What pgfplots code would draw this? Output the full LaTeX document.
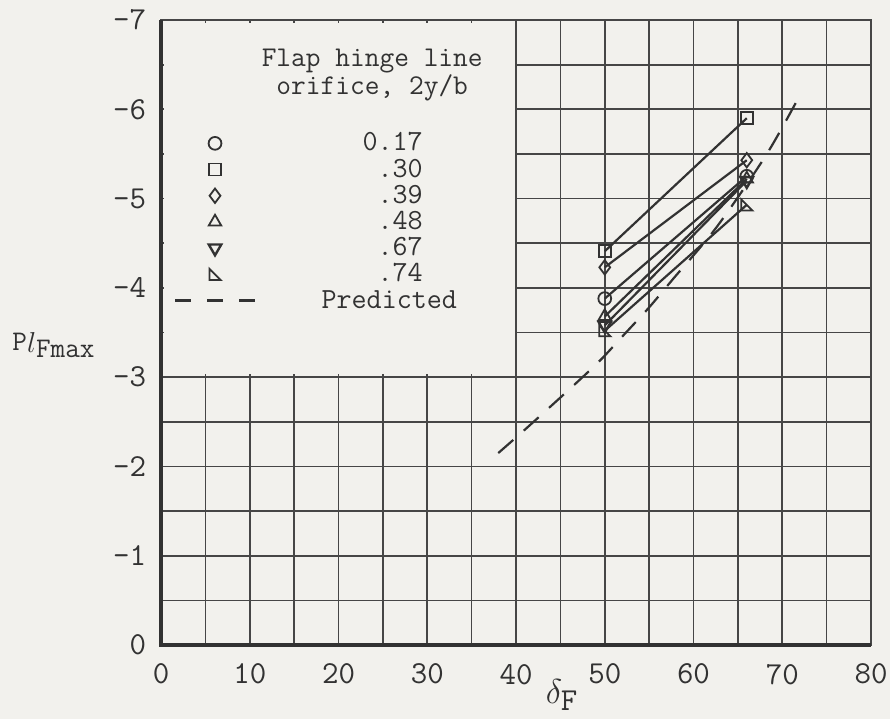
\documentclass[border=0pt]{standalone}
\usepackage{fontspec}
\usepackage{pgfplots}
\pgfplotsset{compat=1.18}
\usetikzlibrary{backgrounds}
\definecolor{paper}{RGB}{242,241,237}
\definecolor{ink}{RGB}{50,50,50}
\definecolor{gridc}{RGB}{70,70,70}
\makeatletter
\pgfdeclareplotmark{rtri}{%
  \pgfpathmoveto{\pgfqpoint{-\pgfplotmarksize}{\pgfplotmarksize}}%
  \pgfpathlineto{\pgfqpoint{-\pgfplotmarksize}{-\pgfplotmarksize}}%
  \pgfpathlineto{\pgfqpoint{\pgfplotmarksize}{-\pgfplotmarksize}}%
  \pgfpathclose
  \pgfusepathqstroke}
\makeatother
\pgfplotsset{
  markimg/.style={legend image code/.code={%
      \path (0pt,0pt) (40pt,0pt);
      \draw[##1, only marks] plot coordinates {(20pt,0pt)};}},
  predimg/.style={legend image code/.code={%
      \draw[##1, dash pattern=on 8pt off 8pt] (0pt,0pt) -- (40pt,0pt);}},
}
\begin{document}
\begin{tikzpicture}[show background rectangle, inner frame sep=0pt,
  background rectangle/.style={fill=paper, draw=none}]
\begin{axis}[
  scale only axis, width=355pt, height=312.5pt,
  xmin=0, xmax=80, ymin=-7, ymax=0, y dir=reverse,
  xtick={0,10,...,80}, xticklabels={0,10,20,30,40,50,60,70,80},
  ytick={0,-1,-2,-3,-4,-5,-6,-7}, yticklabels={0,–1,–2,–3,–4,–5,–6,–7},
  minor xtick={5,15,...,75}, minor ytick={-0.5,-1.5,-2.5,-3.5,-4.5,-5.5,-6.5},
  grid=both, grid style={gridc, line width=0.85pt},
  minor grid style={gridc, line width=0.85pt},
  major tick length=0pt, minor tick length=0pt,
  axis line style={gridc, line width=0.85pt},
  ticklabel style={font=\fontsize{16}{18}\selectfont\ttfamily, text=ink, inner sep=1pt},
  xticklabel style={yshift=-8.3pt},
  yticklabel style={xshift=-6.3pt},
  clip=false,
  legend cell align=left,
  legend style={draw=none, fill=none, inner sep=0pt,
    at={(axis cs:1.41,-5.77)}, anchor=north west,
    font=\fontsize{14.6}{16}\selectfont\ttfamily, text=ink,
    row sep=0pt, column sep=31pt,
    nodes={inner sep=1.75pt, text height=8.6pt, text depth=1pt}},
]
% blank legend area
\fill[paper] (axis cs:0.3,-3.03) rectangle (axis cs:39.93,-6.97);

\addplot[ink, line width=1.1pt, mark=o, mark size=3.2pt, mark options={solid, fill=paper, line width=0.9pt}, markimg]
  coordinates {(50,-3.88) (66,-5.25)};
\addlegendentry{\hspace{28pt}\llap{0}.17}
\addplot[ink, line width=1.1pt, mark=square, mark size=3pt, mark options={solid, fill=paper, line width=0.9pt}, markimg]
  coordinates {(50,-4.41) (66,-5.90)};
\addlegendentry{\hspace{28pt}.30}
\addplot[ink, line width=1.1pt, mark=diamond, mark size=3.6pt, mark options={solid, fill=paper, line width=0.9pt}, markimg]
  coordinates {(50,-4.23) (66,-5.43)};
\addlegendentry{\hspace{28pt}.39}
\addplot[ink, line width=1.1pt, mark=triangle, mark size=3.6pt, mark options={solid, line width=0.9pt}, markimg]
  coordinates {(50,-3.68) (66,-5.22)};
\addlegendentry{\hspace{28pt}.48}
\addplot[ink, line width=1.1pt, mark=triangle, mark size=3.6pt, mark options={solid, rotate=180, line width=1.2pt}, markimg]
  coordinates {(50,-3.58) (66,-5.20)};
\addlegendentry{\hspace{28pt}.67}
\addplot[ink, line width=1.1pt, mark=rtri, mark size=2.8pt, mark options={solid, line width=0.9pt}, markimg]
  coordinates {(50,-3.52) (66,-4.93)};
\addlegendentry{\hspace{28pt}.74}
\addplot[ink, line width=1.1pt, dash pattern=on 10pt off 7pt, smooth, predimg]
  coordinates {(38,-2.15) (41.2,-2.43) (46.3,-2.89) (49.5,-3.19) (52.3,-3.49) (54.9,-3.77) (57.7,-4.10) (62.6,-4.68) (68.2,-5.49) (72,-6.16)};
\addlegendentry{Predicted}

% heavy left and bottom frame
\draw[ink, line width=2.2pt] (axis cs:0,-7) -- (axis cs:0,0) -- (axis cs:80,0);

% legend title
\node[align=center, font=\fontsize{14.3}{14}\selectfont\ttfamily, text=ink]
  at (axis cs:23.8,-6.38) {Flap hinge line\\orifice, 2y/b};

% axis labels
\node[anchor=base west, text=ink, inner sep=0pt, xshift=-74.5pt, font=\fontsize{14.2}{16}\selectfont]
  at (axis cs:0,-3.3) {\texttt{P}\raisebox{-0.2ex}{$l$}\raisebox{-0.6ex}{\texttt{Fmax}}};
\node[anchor=base, text=ink, inner sep=0pt, yshift=-29pt, font=\fontsize{16}{18}\selectfont]
  at (axis cs:45.2,0) {$\delta_{\texttt{F}}$};

% picture extent
\path ([xshift=-80.5pt,yshift=10pt]axis cs:0,-7);
\path ([xshift=9.5pt,yshift=-37pt]axis cs:80,0);
\end{axis}
\end{tikzpicture}
\end{document}
